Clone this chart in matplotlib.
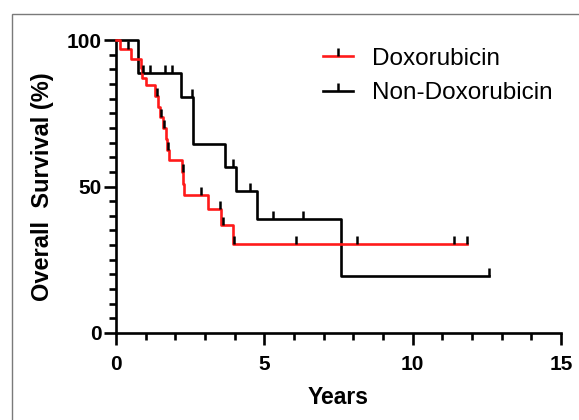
import numpy as np
import matplotlib
matplotlib.use("Agg")
import matplotlib.pyplot as plt
from matplotlib.lines import Line2D
from matplotlib.patches import Rectangle
from matplotlib.ticker import MultipleLocator

plt.rcParams["font.family"] = ["Liberation Sans", "DejaVu Sans"]

# ================= DATA =================

# Doxorubicin group: step times (years) and survival (%) after each step
dox_t = [0, 0.15, 0.5, 0.83, 0.88, 1.0, 1.32, 1.40, 1.48, 1.58, 1.69, 1.73,
         1.78, 2.24, 2.27, 2.30, 3.11, 3.55, 3.93, 11.82]
dox_s = [100, 96.8, 93.6, 90.3, 87.1, 84.6, 81.0, 77.3, 73.6, 69.9, 66.2, 62.5,
         59.0, 55.0, 51.0, 47.1, 42.2, 36.9, 30.4, 30.4]
dox_cens = [0.4, 1.38, 1.52, 1.63, 1.75, 2.26, 2.85, 3.5, 3.62, 3.97,
            6.06, 8.11, 11.38, 11.82]

# Non-Doxorubicin group
non_t = [0, 0.75, 2.2, 2.6, 3.66, 4.03, 4.75, 7.57, 12.57]
non_s = [100, 88.6, 80.7, 64.5, 56.8, 48.5, 38.8, 19.4, 19.4]
non_cens = [0.92, 1.15, 1.65, 1.9, 2.55, 3.94, 4.52, 5.3, 6.31, 12.57]

labels = ["Doxorubicin", "Non-Doxorubicin"]
colors = ["#ff1a1a", "black"]


def surv_at(times, surv, t):
    idx = np.searchsorted(times, t, side="right") - 1
    return np.array(surv)[idx]


# ================= PLOT =================

fig = plt.figure(figsize=(5.79, 4.2), dpi=100)
ax = fig.add_axes([116 / 579, 87 / 420, 445 / 579, 293 / 420])

# outer frame
fig.patches.append(Rectangle((12 / 579, -0.1), 1.2, 1 - 14 / 420 + 0.1,
                             transform=fig.transFigure, fill=False,
                             edgecolor="#7a7a7a", lw=1.0))

groups = [(non_t, non_s, non_cens), (dox_t, dox_s, dox_cens)]
cols = [colors[1], colors[0]]
for (t, s, c), col in zip(groups, cols):
    ax.step(t, s, where="post", color=col, lw=1.9, clip_on=False, zorder=3)
    ax.plot(c, surv_at(t, s, c), linestyle="none", marker=2, ms=6,
            mew=1.8, color="black", clip_on=False, zorder=4)

ax.set_xlim(0, 15)
ax.set_ylim(0, 100)

for side in ["top", "right"]:
    ax.spines[side].set_visible(False)
for side in ["left", "bottom"]:
    ax.spines[side].set_linewidth(1.9)

ax.xaxis.set_major_locator(MultipleLocator(5))
ax.xaxis.set_minor_locator(MultipleLocator(1))
ax.yaxis.set_major_locator(MultipleLocator(50))
ax.yaxis.set_minor_locator(MultipleLocator(5))
ax.tick_params(which="major", length=8.5, width=1.9, labelsize=15)
ax.tick_params(which="minor", length=5, width=1.9)
ax.tick_params(axis="y", which="major", pad=2)
ax.tick_params(axis="x", which="major", pad=7)
for lab in ax.get_xticklabels() + ax.get_yticklabels():
    lab.set_fontweight("bold")

ax.set_xlabel("Years", fontsize=16.5, fontweight="bold", labelpad=9)
ax.set_ylabel("Overall  Survival (%)", fontsize=17, fontweight="bold", labelpad=9)

handles = [Line2D([], [], color=colors[0], lw=1.9, marker=2, ms=6, mew=1.8,
                  mec="black"),
           Line2D([], [], color=colors[1], lw=1.9, marker=2, ms=6, mew=1.8,
                  mec="black")]
fig.legend(handles, labels, loc="center left",
           bbox_to_anchor=(323 / 579, 1 - 76 / 420), frameon=False,
           fontsize=17.5, handlelength=1.25, handletextpad=0.75,
           labelspacing=0.5, borderpad=0, borderaxespad=0, numpoints=1)

fig.savefig("out.png", dpi=100)
